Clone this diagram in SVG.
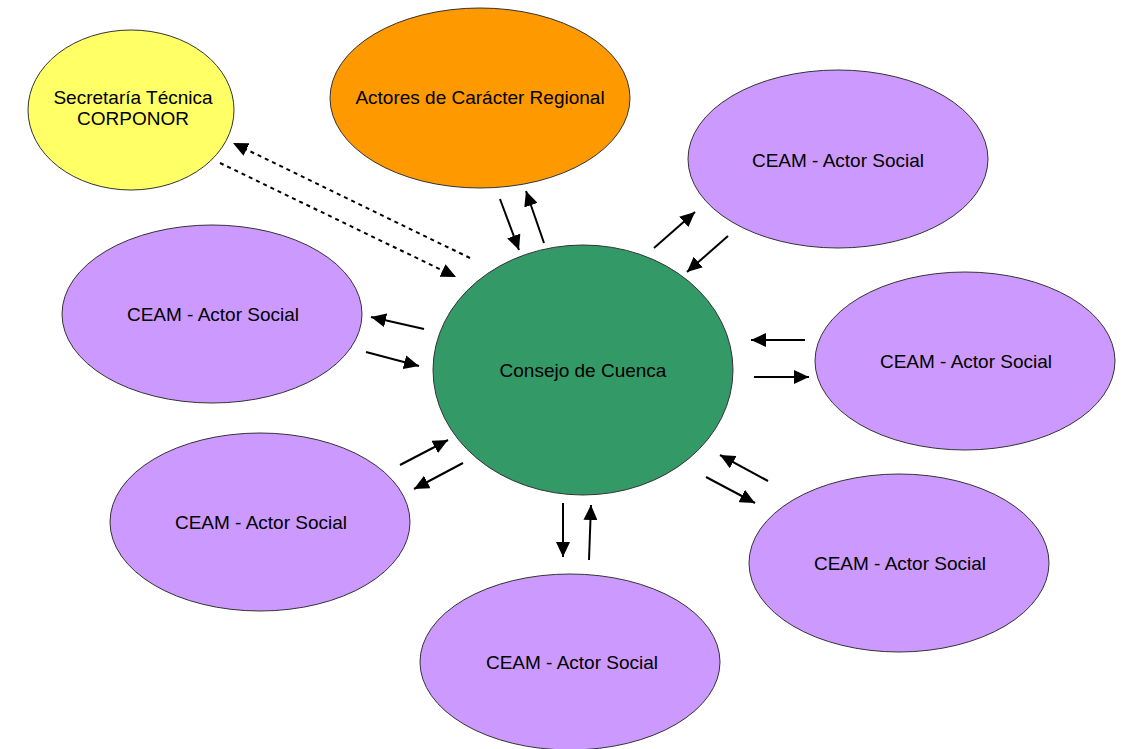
<svg xmlns="http://www.w3.org/2000/svg" width="1125" height="749" viewBox="0 0 1125 749">
  <style>
    .node { stroke: #333333; stroke-width: 1; }
    .yellow { fill: #FFFF66; }
    .orange { fill: #FF9900; }
    .purple { fill: #CC99FF; }
    .green { fill: #339966; }
    .label { font-family: "Liberation Sans", Arial, sans-serif; font-size: 19px; fill: #000000; text-anchor: middle; dominant-baseline: central; }
    .link { stroke: #000000; stroke-width: 2; fill: none; marker-end: url(#head); }
    .dotted { stroke-dasharray: 4 4; }
  </style>
  <defs>
    <marker id="head" markerUnits="userSpaceOnUse" markerWidth="16" markerHeight="14" refX="15" refY="7" orient="auto">
      <path d="M0,0 L15,7 L0,14 Z" fill="#000000"/>
    </marker>
  </defs>
  <rect width="1125" height="749" fill="#FFFFFF"/>

  <g id="connectors">
    <!-- dotted links to the technical secretariat -->
    <line class="link dotted" x1="470" y1="258" x2="233" y2="143"/>
    <line class="link dotted" x1="220" y1="163" x2="456" y2="277"/>
    <!-- regional actors -->
    <line class="link" x1="500" y1="199" x2="519" y2="250"/>
    <line class="link" x1="544" y1="243" x2="526" y2="191"/>
    <!-- top right -->
    <line class="link" x1="654" y1="248" x2="695" y2="212"/>
    <line class="link" x1="728" y1="236" x2="687" y2="272"/>
    <!-- left -->
    <line class="link" x1="424" y1="329" x2="371" y2="317"/>
    <line class="link" x1="366" y1="352" x2="419" y2="366"/>
    <!-- right -->
    <line class="link" x1="805" y1="340" x2="751" y2="340"/>
    <line class="link" x1="754" y1="377" x2="809" y2="377"/>
    <!-- lower left -->
    <line class="link" x1="400" y1="465" x2="448" y2="440"/>
    <line class="link" x1="463" y1="463" x2="414" y2="489"/>
    <!-- bottom -->
    <line class="link" x1="563" y1="503" x2="563" y2="557"/>
    <line class="link" x1="589" y1="560" x2="591" y2="505"/>
    <!-- lower right -->
    <line class="link" x1="768" y1="481" x2="720" y2="455"/>
    <line class="link" x1="706" y1="477" x2="755" y2="503"/>
  </g>

  <g id="secretaria">
    <ellipse class="node yellow" cx="131" cy="110" rx="103" ry="80"/>
    <text class="label" x="133" y="97">Secretaría Técnica</text>
    <text class="label" x="133" y="118">CORPONOR</text>
  </g>
  <g id="actores-regionales">
    <ellipse class="node orange" cx="480" cy="98" rx="150" ry="90"/>
    <text class="label" x="480" y="97">Actores de Carácter Regional</text>
  </g>
  <g id="ceam-top-right">
    <ellipse class="node purple" cx="838" cy="159" rx="150" ry="89"/>
    <text class="label" x="838" y="160">CEAM - Actor Social</text>
  </g>
  <g id="ceam-left">
    <ellipse class="node purple" cx="212" cy="314" rx="150" ry="89"/>
    <text class="label" x="213" y="314">CEAM - Actor Social</text>
  </g>
  <g id="ceam-right">
    <ellipse class="node purple" cx="965" cy="361" rx="150" ry="89"/>
    <text class="label" x="966" y="361">CEAM - Actor Social</text>
  </g>
  <g id="consejo">
    <ellipse class="node green" cx="583" cy="370" rx="150" ry="125"/>
    <text class="label" x="583" y="370">Consejo de Cuenca</text>
  </g>
  <g id="ceam-lower-left">
    <ellipse class="node purple" cx="260" cy="522" rx="150" ry="89"/>
    <text class="label" x="261" y="522">CEAM - Actor Social</text>
  </g>
  <g id="ceam-lower-right">
    <ellipse class="node purple" cx="899" cy="563" rx="150" ry="89"/>
    <text class="label" x="900" y="563">CEAM - Actor Social</text>
  </g>
  <g id="ceam-bottom">
    <ellipse class="node purple" cx="570" cy="662" rx="150" ry="88"/>
    <text class="label" x="572" y="662">CEAM - Actor Social</text>
  </g>
</svg>
